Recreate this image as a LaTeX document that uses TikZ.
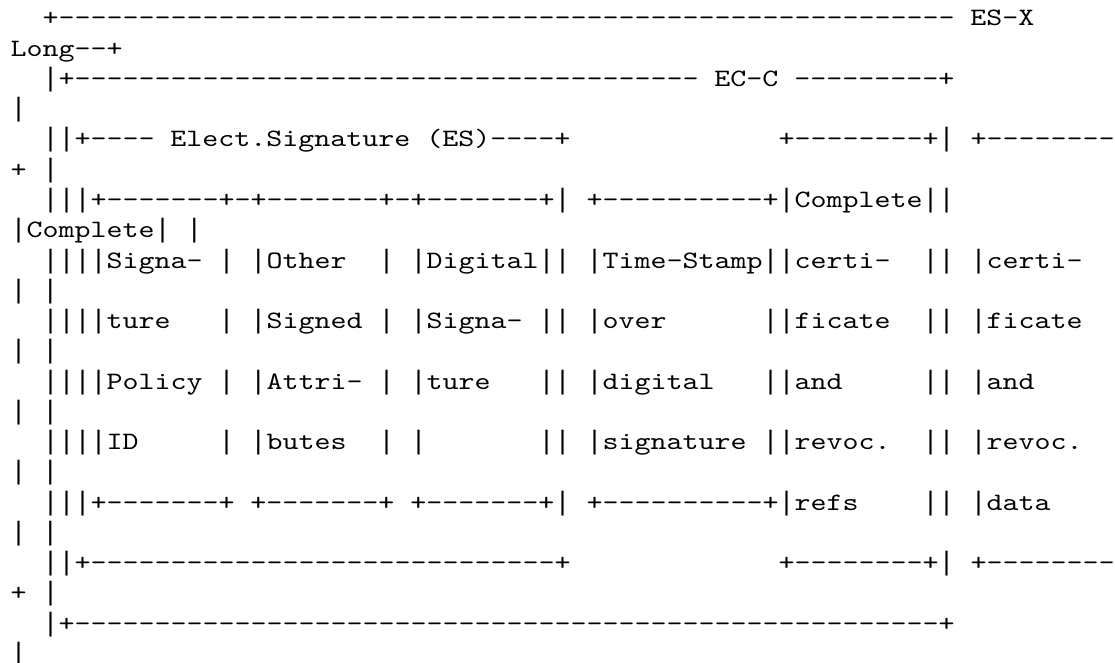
\documentclass[tikz,border=0pt]{standalone}
\usepackage{fontspec}
\setmonofont[FakeStretch=1.21905]{lmmono10-regular.otf}
\newfontfamily\barfont{Liberation Mono}
\ExplSyntaxOn
\NewDocumentCommand\dsh{m}{\prg_replicate:nn{#1}{-}}
\NewDocumentCommand\spc{m}{\prg_replicate:nn{#1}{\ }}
\ExplSyntaxOff
\begingroup\lccode`\~=`\|
\lowercase{\endgroup\def~}{{\barfont\fontsize{26.67}{30}\selectfont|}}
\tikzset{txt/.style={anchor=base west, inner sep=0pt, outer sep=0pt,
  font=\ttfamily\fontsize{25}{30}\selectfont, text=black}}
\newcommand\ascrow[4]{\node[txt] (#1) at ({10.5+16*#2},{-26-30.25*(#3-1)}) {#4};}
\begin{document}
\catcode`\|=\active
\begin{tikzpicture}[x=1pt,y=1pt]
\fill[white] (0,0) rectangle (1115,-663);
\useasboundingbox (0,0) rectangle (1115,-663);
\ascrow{r1}{2}{1}{+\dsh{56}\ ES-X}
\ascrow{r2}{0}{2}{Long--+}
\ascrow{r3}{2}{3}{|+\dsh{39}\ EC-C\ \dsh{9}+}
\ascrow{r4}{0}{4}{|}
\ascrow{r5}{2}{5}{||+----\ Elect.Signature\ (ES)----+\spc{13}+\dsh{8}+|\ +\dsh{8}}
\ascrow{r6}{0}{6}{+\ |}
\ascrow{r7}{2}{7}{|||+\dsh{7}+-+\dsh{7}+-+\dsh{7}+|\ +\dsh{10}+|Complete||}
\ascrow{r8}{0}{8}{|Complete|\ |}
\ascrow{r9}{2}{9}{||||Signa-\ |\ |Other\spc{2}|\ |Digital||\ |Time-Stamp||certi-\spc{2}||\ |certi-}
\ascrow{r10}{0}{10}{|\ |}
\ascrow{r11}{2}{11}{||||ture\spc{3}|\ |Signed\ |\ |Signa-\ ||\ |over\spc{6}||ficate\spc{2}||\ |ficate}
\ascrow{r12}{0}{12}{|\ |}
\ascrow{r13}{2}{13}{||||Policy\ |\ |Attri-\ |\ |ture\spc{3}||\ |digital\spc{3}||and\spc{5}||\ |and}
\ascrow{r14}{0}{14}{|\ |}
\ascrow{r15}{2}{15}{||||ID\spc{5}|\ |butes\spc{2}|\ |\spc{7}||\ |signature\ ||revoc.\spc{2}||\ |revoc.}
\ascrow{r16}{0}{16}{|\ |}
\ascrow{r17}{2}{17}{|||+\dsh{7}+\ +\dsh{7}+\ +\dsh{7}+|\ +\dsh{10}+|refs\spc{4}||\ |data}
\ascrow{r18}{0}{18}{|\ |}
\ascrow{r19}{2}{19}{||+\dsh{29}+\spc{13}+\dsh{8}+|\ +\dsh{8}}
\ascrow{r20}{0}{20}{+\ |}
\ascrow{r21}{2}{21}{|+\dsh{54}+}
\ascrow{r22}{0}{22}{|}
\end{tikzpicture}
\end{document}
